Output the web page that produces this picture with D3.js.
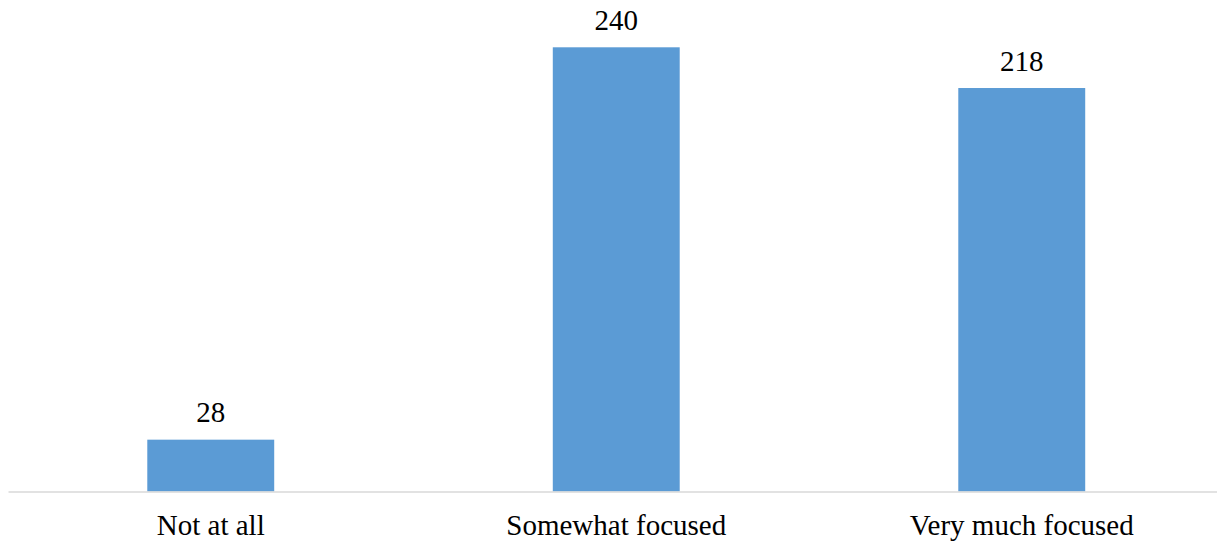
<!DOCTYPE html>
<html>
<head>
<meta charset="utf-8">
<script src="https://cdn.jsdelivr.net/npm/d3@7/dist/d3.min.js"></script>
<style>
  html, body { margin: 0; padding: 0; background: #fff; }
  svg { display: block; }
  text { font-family: "Liberation Serif", "Times New Roman", serif; fill: #000; }
</style>
</head>
<body>
<svg id="chart" width="1217" height="545"></svg>
<script>
// Responses per category
const categories = ["Not at all", "Somewhat focused", "Very much focused"];
const counts = [28, 240, 218];

const width = 1217, height = 545;
const plotLeft = 8, plotRight = 1224.5;
const baseline = 491.5, topY = 47.3;
const fontSize = 29;

const svg = d3.select("#chart");

const x = d3.scaleBand()
  .domain(categories)
  .range([plotLeft, plotRight])
  .padding(0);

const y = d3.scaleLinear()
  .domain([0, 240])
  .range([baseline, topY]);

const barW = x.bandwidth() * 0.313;

const data = categories.map((c, i) => ({ category: c, value: counts[i] }));

// Bars
svg.append("g")
  .selectAll("rect")
  .data(data)
  .join("rect")
  .attr("x", d => x(d.category) + x.bandwidth() / 2 - barW / 2)
  .attr("y", d => y(d.value))
  .attr("width", barW)
  .attr("height", d => baseline - y(d.value))
  .attr("fill", "#5B9BD5");

// Category axis
const axis = svg.append("g")
  .attr("transform", `translate(0,${baseline})`)
  .call(d3.axisBottom(x).tickSize(0).tickPadding(0));
axis.select(".domain").attr("stroke", "#D9D9D9").attr("stroke-width", 1.5);
axis.selectAll(".tick text")
  .attr("y", 43.5)
  .attr("dy", null)
  .attr("font-size", fontSize)
  .attr("font-family", "Liberation Serif, Times New Roman, serif")
  .attr("fill", "#000");

// Value labels
svg.append("g")
  .selectAll("text")
  .data(data)
  .join("text")
  .attr("x", d => x(d.category) + x.bandwidth() / 2)
  .attr("y", d => y(d.value) - 17.5)
  .attr("text-anchor", "middle")
  .attr("font-size", fontSize)
  .text(d => d.value);
</script>
</body>
</html>
